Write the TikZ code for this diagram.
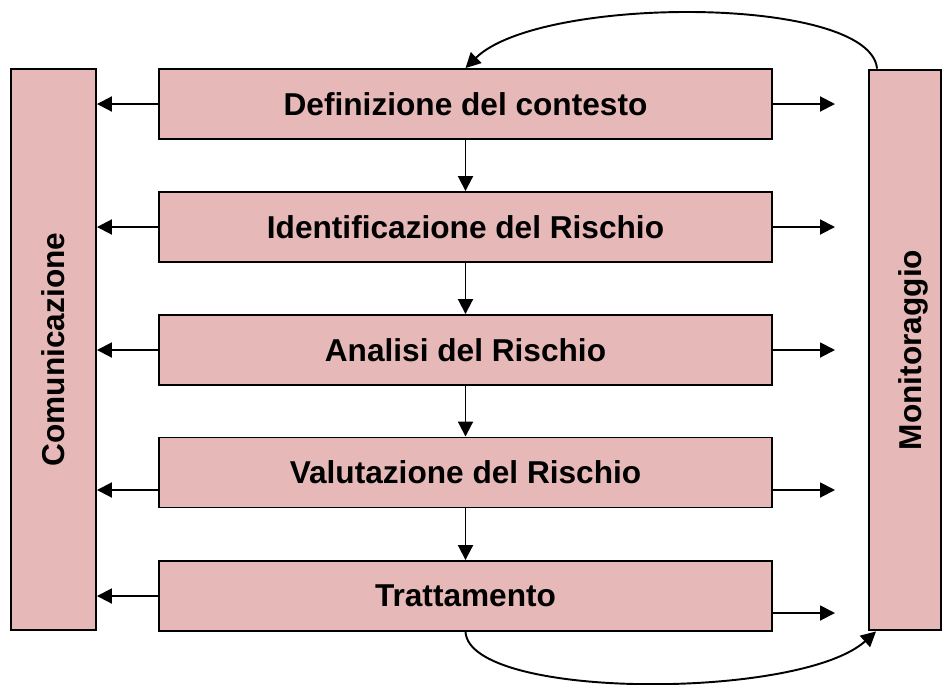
\documentclass[tikz,border=0pt]{standalone}
\usepackage{fontspec}
\setmainfont{Liberation Sans}
\usetikzlibrary{arrows.meta}

\definecolor{boxpink}{HTML}{E6B8B7}

\begin{document}
\begin{tikzpicture}[x=0.02cm,y=-0.02cm,>={Triangle[length=3mm,width=3mm]},
                line width=1.1pt,
                step box/.style={fill=boxpink, draw=black, minimum width=12.26cm, minimum height=1.4cm,
                                 inner sep=0pt, font=\fontsize{18}{21}\selectfont\bfseries},
                side box/.style={fill=boxpink, draw=black, minimum height=11.22cm, inner sep=0pt,
                                 font=\fontsize{18}{21}\selectfont\bfseries}]

    \useasboundingbox (0,0) rectangle (942,684);

    \node[side box, minimum width=1.7cm] (com) at (53.5,349.5) {\rotatebox{90}{Comunicazione}};
    \node[side box, minimum width=1.44cm] (mon) at (905,350) {\hspace*{0.32cm}\rotatebox{90}{Monitoraggio}};

    \node[step box] (def) at (465.5,104) {Definizione del contesto};
    \node[step box] (ide) at (465.5,227) {Identificazione del Rischio};
    \node[step box] (ana) at (465.5,350) {Analisi del Rischio};
    \node[step box] (val) at (465.5,472.5) {Valutazione del Rischio};
    \node[step box] (tra) at (465.5,596) {Trattamento};

    % uscite verso il monitoraggio
    \coordinate (m1) at (835,104);
    \coordinate (m2) at (835,227);
    \coordinate (m3) at (835,350);
    \coordinate (m4) at (835,490);
    \coordinate (m5) at (835,613);

    % sequenza del processo
    \draw[->] (def) -- (ide);
    \draw[->] (ide) -- (ana);
    \draw[->] (ana) -- (val);
    \draw[->] (val) -- (tra);

    % comunicazione
    \draw[->] (def.west) -- (def.west -| com.east);
    \draw[->] (ide.west) -- (ide.west -| com.east);
    \draw[->] (ana.west) -- (ana.west -| com.east);
    \draw[->] ([yshift=-0.35cm]val.west) -- ([yshift=-0.35cm]val.west -| com.east);
    \draw[->] (tra.west) -- (tra.west -| com.east);

    % monitoraggio
    \draw[->] (def.east) -- (m1);
    \draw[->] (ide.east) -- (m2);
    \draw[->] (ana.east) -- (m3);
    \draw[->] (m4 -| val.east) -- (m4);
    \draw[->] (m5 -| tra.east) -- (m5);

    % ritorni
    \draw[->] ([xshift=0.18cm]mon.north west) .. controls (870,-5) and (540,-5) .. (def.north);
    \draw[->] (tra.south) .. controls (470,700) and (800,700) .. ([xshift=0.16cm]mon.south west);

\end{tikzpicture}
\end{document}
